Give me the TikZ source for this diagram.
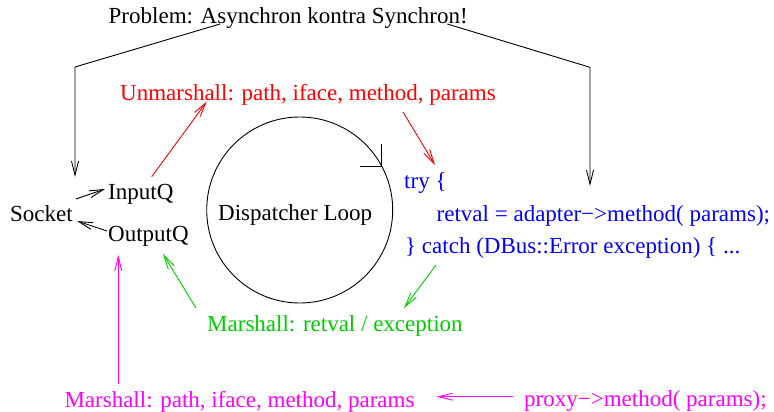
\documentclass[tikz,border=0pt]{standalone}
\usepackage{fontspec}
\setmainfont{Liberation Serif}
\usetikzlibrary{arrows.meta}
\definecolor{fgreen}{RGB}{0,205,0}
\definecolor{fmag}{RGB}{255,0,255}
\definecolor{fblue}{RGB}{0,0,255}
\definecolor{fred}{RGB}{255,0,0}
\tikzset{
  lbl/.style={anchor=base west, inner sep=0pt, font=\fontsize{23}{26}\selectfont},
  conn/.style={line width=0.9pt, -{Straight Barb[length=14pt,width=7pt,line width=0.9pt]}},
  plain/.style={line width=0.9pt}
}
\begin{document}
\begin{tikzpicture}[x=1pt,y=-1pt]
\useasboundingbox (0,0) rectangle (774,412);
% text nodes
\node[lbl] (prob) at (108.5,24) {Problem: Asynchron kontra Synchron!};
\node[lbl, text=fred] (unm) at (120,100.5) {Unmarshall: path, iface, method, params};
\node[lbl] (inq) at (108,199.5) {InputQ};
\node[lbl] (sock) at (10,221) {Socket};
\node[lbl] (outq) at (108,241.5) {OutputQ};
\node[draw, circle, line width=0.9pt, minimum size=186pt, inner sep=0pt] (loop) at (299.7,210) {};
\node[lbl] (dl) at (218,220.7) {Dispatcher Loop};
\node[lbl, text=fblue] (try) at (404,188.3) {try \{};
\node[lbl, text=fblue] (ret) at (436.5,221.7) {retval = adapter−>method( params);};
\node[lbl, text=fblue] (catch) at (405,253.3) {\} catch (DBus::Error exception) \{ ...};
\node[lbl, text=fgreen] (mret) at (207,331) {Marshall: retval / exception};
\node[lbl, text=fmag] (mpar) at (64.3,407.3) {Marshall: path, iface, method, params};
\node[lbl, text=fmag] (proxy) at (524,406.7) {proxy−>method( params);};
% connector end points
\coordinate (pA) at (220,24);
\coordinate (pAc) at (75,67);
\coordinate (pAt) at (75,177);
\coordinate (pB) at (447.3,24);
\coordinate (pBc) at (590,67.3);
\coordinate (pBt) at (590,186);
\coordinate (r1s) at (151.7,176.7);
\coordinate (r1t) at (206.7,101.7);
\coordinate (r2s) at (403,112);
\coordinate (r2t) at (435,165);
\coordinate (s1s) at (76,199);
\coordinate (s1t) at (105,189);
\coordinate (s2s) at (107,231);
\coordinate (s2t) at (77,221);
\coordinate (g1s) at (196,308);
\coordinate (g1t) at (163,254);
\coordinate (g2s) at (436,265);
\coordinate (g2t) at (404,308);
\coordinate (m1s) at (118.3,384);
\coordinate (m1t) at (118.3,255);
\coordinate (m2s) at (513,396.7);
\coordinate (m2t) at (436.7,396.7);
\coordinate (ca) at (381.7,144.3);
\coordinate (cb) at (381.7,166.7);
\coordinate (cc) at (360,166.7);
% connectors
\draw[conn] (pA) -- (pAc) -- (pAt);
\draw[conn] (pB) -- (pBc) -- (pBt);
\draw[conn, draw=fred] (r1s) -- (r1t);
\draw[conn, draw=fred] (r2s) -- (r2t);
\draw[conn] (s1s) -- (s1t);
\draw[conn] (s2s) -- (s2t);
\draw[conn, draw=fgreen] (g1s) -- (g1t);
\draw[conn, draw=fgreen] (g2s) -- (g2t);
\draw[conn, draw=fmag] (m1s) -- (m1t);
\draw[conn, draw=fmag] (m2s) -- (m2t);
\draw[plain] (ca) -- (cb) -- (cc);
\end{tikzpicture}
\end{document}
